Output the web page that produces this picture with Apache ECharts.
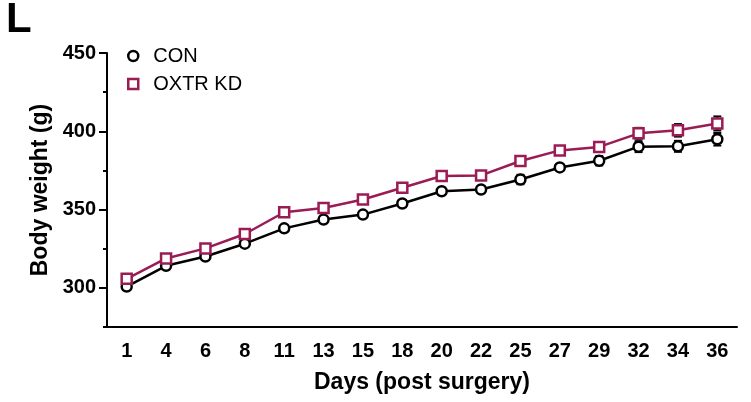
<!DOCTYPE html>
<html>
<head>
<meta charset="utf-8">
<script src="https://cdn.jsdelivr.net/npm/echarts@6/dist/echarts.min.js"></script>
<style>
  html, body { margin: 0; padding: 0; background: #fff; }
  #chart { width: 751px; height: 402px; }
</style>
</head>
<body>
<div id="chart"></div>
<script>
    "use strict";

    // days post surgery
    var days = ['1', '4', '6', '8', '11', '13', '15', '18', '20', '22', '25', '27', '29', '32', '34', '36'];

    // body weight (g), mean
    var conMean  = [300.8, 314.1, 320.0, 328.2, 338.0, 343.6, 346.8, 353.9, 361.7, 362.8, 369.2, 376.9, 381.2, 390.2, 390.4, 394.9];
    var oxtrMean = [305.8, 318.8, 325.2, 334.4, 348.3, 351.0, 356.4, 363.9, 371.4, 371.8, 381.0, 387.8, 390.0, 398.7, 400.6, 405.0];

    // error (SEM)
    var conErr  = [1.5, 1.5, 1.5, 1.5, 1.5, 1.5, 1.5, 1.5, 1.5, 1.5, 3.0, 1.5, 3.0, 3.5, 3.5, 4.0];
    var oxtrErr = [1.5, 1.5, 1.5, 1.5, 1.5, 1.5, 1.5, 1.5, 1.5, 1.5, 1.5, 1.5, 2.0, 3.5, 4.0, 4.5];

    // y tick labels
    var yMajor = [300, 350, 400, 450];

    var black = '#000000';
    var plum = '#9b1b55';
    var font = '"Liberation Sans", Arial, sans-serif';

    function errData(mean, err) {
        return mean.map(function (m, i) { return [i, m - err[i], m + err[i]]; });
    }

    function renderErr(params, api) {
        var lo = api.coord([api.value(0), api.value(1)]);
        var hi = api.coord([api.value(0), api.value(2)]);
        var w = 4;
        var st = { stroke: black, lineWidth: 2 };
        return {
            type: 'group',
            children: [
                { type: 'line', shape: { x1: hi[0], y1: hi[1], x2: lo[0], y2: lo[1] }, style: st },
                { type: 'line', shape: { x1: hi[0] - w, y1: hi[1], x2: hi[0] + w, y2: hi[1] }, style: st },
                { type: 'line', shape: { x1: lo[0] - w, y1: lo[1], x2: lo[0] + w, y2: lo[1] }, style: st }
            ]
        };
    }

    var chart = echarts.init(document.getElementById('chart'));

    var option = {
        animation: false,
        backgroundColor: '#fff',
        title: {
            text: 'L',
            left: 1,
            top: -6,
            textStyle: { fontFamily: font, fontWeight: 'bold', fontSize: 42, color: black }
        },
        legend: {
            orient: 'vertical',
            left: 122,
            top: 41,
            itemGap: 8,
            itemWidth: 10,
            itemHeight: 10,
            textStyle: { fontFamily: font, fontSize: 20, color: black, padding: [0, 0, 0, 10] },
            data: [
                { name: 'CON', icon: 'circle', itemStyle: { color: '#fff', borderColor: black, borderWidth: 2.5 } },
                { name: 'OXTR KD', icon: 'rect', itemStyle: { color: '#fff', borderColor: plum, borderWidth: 2.5 } }
            ]
        },
        // grid 0: the plot (275..450); grid 1: same scale cut at 300 for the long ticks
        grid: [
            { left: 107, right: 14, top: 53, bottom: 75, containLabel: false },
            { left: 107, right: 14, top: 53, bottom: 114, containLabel: false }
        ],
        xAxis: [{
            type: 'category',
            gridIndex: 0,
            data: days,
            boundaryGap: true,
            name: 'Days (post surgery)',
            nameLocation: 'middle',
            nameGap: 44,
            nameTextStyle: { fontFamily: font, fontWeight: 'bold', fontSize: 23, color: black },
            axisLine: { lineStyle: { color: black, width: 2 } },
            axisTick: { alignWithLabel: true, length: 7, lineStyle: { color: black, width: 2 } },
            axisLabel: { margin: 14, fontFamily: font, fontWeight: 'bold', fontSize: 20, color: black },
            splitLine: { show: false }
        }, {
            type: 'value',
            gridIndex: 1,
            min: 0,
            max: 1,
            show: false
        }],
        yAxis: [{
            type: 'value',
            gridIndex: 0,
            min: 275,
            max: 450,
            interval: 25,
            name: 'Body weight (g)',
            nameLocation: 'middle',
            nameGap: 53,
            nameTextStyle: { fontFamily: font, fontWeight: 'bold', fontSize: 23, color: black },
            axisLine: { show: true, lineStyle: { color: black, width: 2 } },
            axisTick: { show: true, length: 4, lineStyle: { color: black, width: 2 } },
            axisLabel: { margin: 11, customValues: yMajor, fontFamily: font, fontWeight: 'bold', fontSize: 20, color: black },
            splitLine: { show: false }
        }, {
            type: 'value',
            gridIndex: 1,
            position: 'left',
            min: 300,
            max: 450,
            interval: 50,
            axisLine: { show: false, onZero: false },
            axisTick: { show: true, length: 8, lineStyle: { color: black, width: 2 } },
            axisLabel: { show: false },
            splitLine: { show: false }
        }],
        series: [
            {
                name: 'CON err',
                type: 'custom',
                renderItem: renderErr,
                data: errData(conMean, conErr),
                encode: { x: 0, y: [1, 2] },
                z: 1
            },
            {
                name: 'OXTR err',
                type: 'custom',
                renderItem: renderErr,
                data: errData(oxtrMean, oxtrErr),
                encode: { x: 0, y: [1, 2] },
                z: 1
            },
            {
                name: 'CON',
                type: 'line',
                data: conMean,
                symbol: 'circle',
                symbolSize: 10,
                lineStyle: { color: black, width: 2.5 },
                itemStyle: { color: '#fff', borderColor: black, borderWidth: 2.5 },
                z: 3
            },
            {
                name: 'OXTR KD',
                type: 'line',
                data: oxtrMean,
                symbol: 'rect',
                symbolSize: 10,
                lineStyle: { color: plum, width: 2.5 },
                itemStyle: { color: '#fff', borderColor: plum, borderWidth: 2.5 },
                z: 4
            }
        ]
    };

    chart.setOption(option);
</script>
</body>
</html>
